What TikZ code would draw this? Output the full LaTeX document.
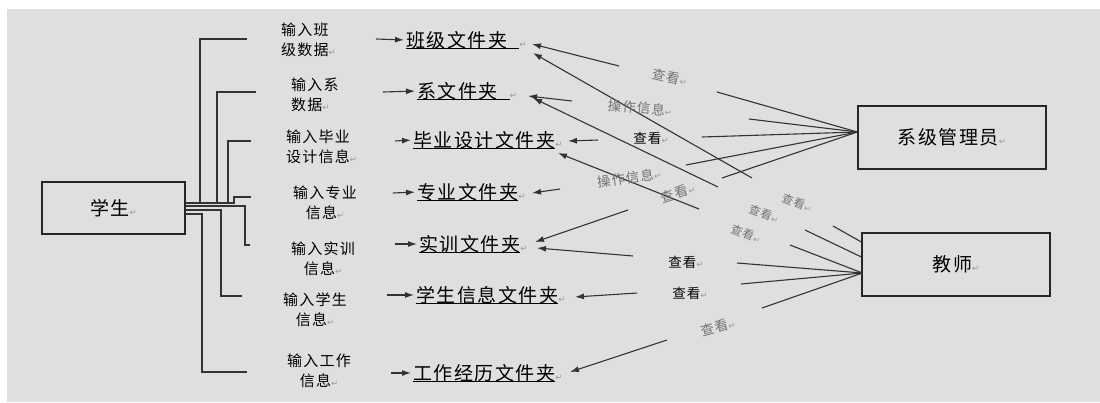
\documentclass[tikz,border=0pt]{standalone}
\usepackage{fontspec}
\usetikzlibrary{arrows.meta,calc}
\newfontfamily\cjk[LetterSpace=8]{Noto Sans CJK SC}
\newfontfamily\dvs{DejaVu Sans}
\definecolor{bg}{HTML}{DFDFDF}
\newcommand\pmark{{\color{black!40}\dvs\fontsize{8.5}{8.5}\selectfont ↵}}
\newcommand\myul[1]{\setbox0\hbox{#1}\rlap{\rule[-1.8pt]{\wd0}{0.8pt}}\box0}
\tikzset{
  ln/.style={draw=black!80, line width=1.1pt},
  arr/.style={ln, -{Latex[length=9pt,width=6pt]}},
  big/.style={font=\cjk\fontsize{19}{20}\selectfont, inner sep=0pt},
  sml/.style={font=\cjk\fontsize{15}{20}\selectfont, inner sep=0pt},
  lbl/.style={font=\cjk\fontsize{13.5}{15}\selectfont, inner sep=0pt},
  glbl/.style={lbl, text=black!55},
  gsml/.style={glbl, font=\cjk\fontsize{11.5}{13}\selectfont},
  ent/.style={big, draw=black!85, line width=1.2pt, minimum width=#1, minimum height=63pt},
}
\begin{document}
\begin{tikzpicture}[x=1pt,y=-1pt]
\useasboundingbox (0,0) rectangle (1100,402);
\fill[white] (0,0) rectangle (1100,402);
\fill[bg] (7,9) rectangle (1100,402);

% entities
\node[ent=143pt, minimum height=52pt] (stu) at (113.5,208) {学生\pmark};
\node[ent=188pt] (adm) at (952,137.5) {系级管理员\pmark};
\node[ent=188pt] (tch) at (956,264.5) {教师\pmark};

% left labels
\node[sml, anchor=west, align=left] (l1) at (281,39.5) {输入班\\级数据\pmark};
\node[sml, anchor=west, align=left] (l2) at (291,94.5) {输入系\\数据\pmark};
\node[sml, anchor=west, align=left] (l3) at (286,147) {输入毕业\\设计信息\pmark};
\node[sml, align=center] (l4) at (325,202.5) {输入专业\\信息\pmark};
\node[sml, align=center] (l5) at (323,258.5) {输入实训\\信息\pmark};
\node[sml, align=center] (l6) at (315,309.5) {输入学生\\信息\pmark};
\node[sml, align=center] (l7) at (319,370.5) {输入工作\\信息\pmark};

% folders
\node[big, anchor=west] (f1) at (406,40) {\myul{班级文件夹\hspace{12pt}}\pmark};
\node[big, anchor=west] (f2) at (417,91) {\myul{系文件夹\hspace{12pt}}\pmark};
\node[big, anchor=west] (f3) at (413,140) {\myul{毕业设计文件夹}\pmark};
\node[big, anchor=west] (f4) at (417,192) {\myul{专业文件夹}\pmark};
\node[big, anchor=west] (f5) at (419,244) {\myul{实训文件夹}\pmark};
\node[big, anchor=west] (f6) at (416,295) {\myul{学生信息文件夹}\pmark};
\node[big, anchor=west] (f7) at (413,373) {\myul{工作经历文件夹}\pmark};

% tree from student
\coordinate (e1) at (247,39);
\coordinate (e2) at (256,92);
\coordinate (e3) at (251,141);
\coordinate (e4) at (251,197);
\coordinate (e5) at (250,245);
\coordinate (e6) at (242,296);
\coordinate (e7) at (247,372);
\draw[ln] ($(stu.east)+(0,-5)$) -| (200,39) -- (e1);
\draw[ln] ($(stu.east)+(0,-5)$) -| (217,92) -- (e2);
\draw[ln] ($(stu.east)+(0,-5)$) -| (228,141) -- (e3);
\draw[ln] ($(stu.east)+(0,-5)$) -| (234,197) -- (e4);
\draw[ln] ($(stu.east)+(0,-2)$) -| (245,245) -- (e5);
\draw[ln] ($(stu.east)+(0,2)$) -| (221,296) -- (e6);
\draw[ln] ($(stu.east)+(0,6)$) -| (202,372) -- (e7);

% short arrows into folders
\coordinate (a1) at (376,39);
\coordinate (a2) at (383,92);
\coordinate (a3) at (395,141);
\coordinate (a4) at (393,193);
\coordinate (a5) at (395,244);
\coordinate (a6) at (387,295);
\coordinate (a7) at (391,373);
\foreach \i in {1,...,7} {\draw[arr, shorten >=2pt] (a\i) -- (f\i.west);}

% arrows from the right into folders
\coordinate (r1) at (619,66);
\coordinate (r2) at (752,178);
\coordinate (r3) at (572,101);
\coordinate (r4) at (718,187);
\coordinate (r5) at (598,140);
\coordinate (r6) at (699,209);
\coordinate (r7) at (560,189);
\coordinate (r8) at (628,210);
\coordinate (r9) at (633,256);
\coordinate (r10) at (637,293);
\coordinate (r11) at (667,340);
\draw[arr] (r1) -- ($(f1.west)+(126,4)$);
\draw[arr] (r2) -- ($(f1.west)+(127,13)$);
\draw[arr] (r3) -- ($(f2.west)+(111,5)$);
\draw[arr] (r4) -- ($(f2.west)+(116,7)$);
\draw[arr] (r5) -- ($(f3.west)+(155,1)$);
\draw[arr] (r6) -- ($(f3.west)+(145,13)$);
\draw[arr] (r7) -- ($(f4.west)+(115,1)$);
\draw[arr] (r8) -- ($(f5.west)+(116,-2)$);
\draw[arr] (r9) -- ($(f5.west)+(118,4)$);
\draw[arr] (r10) -- ($(f6.west)+(159,2)$);
\draw[arr] (r11) -- ($(f7.west)+(157,-1)$);

% admin fan
\coordinate (m1) at (717,92);
\coordinate (m2) at (749,119);
\coordinate (m3) at (702,137);
\coordinate (m4) at (686,165);
\coordinate (m5) at (722,178);
\foreach \i in {1,...,5} {\draw[ln] ($(adm.west)+(0,-5.5)$) -- (m\i);}

% teacher fan
\coordinate (t1) at (833,226);
\coordinate (t2) at (805,230);
\coordinate (t3) at (790,245);
\coordinate (t4) at (737,263);
\coordinate (t5) at (741,284);
\coordinate (t6) at (762,308);
\draw[ln] (t1) -- ($(tch.west)+(0,-22.5)$);
\draw[ln] (t2) -- ($(tch.west)+(0,-7.5)$);
\foreach \i in {3,...,6} {\draw[ln] (t\i) -- ($(tch.west)+(1,8.5)$);}

% middle labels
\node[glbl, rotate=-13] (g1) at (670,77) {查看\pmark};
\node[glbl, rotate=-5] (g2) at (640,108) {操作信息\pmark};
\node[lbl] (b1) at (651,138) {查看\pmark};
\node[glbl, rotate=8] (g3) at (629,178) {操作信息\pmark};
\node[glbl, rotate=18] (g4) at (678,193) {查看\pmark};
\node[gsml, rotate=-22] (g5) at (797,203) {查看\pmark};
\node[gsml, rotate=-22] (g6) at (764,214) {查看\pmark};
\node[gsml, rotate=-22] (g7) at (746,234) {查看\pmark};
\node[lbl] (b2) at (686,262) {查看\pmark};
\node[lbl] (b3) at (690,293) {查看\pmark};
\node[glbl, rotate=15] (g8) at (718,327) {查看\pmark};
\end{tikzpicture}
\end{document}
